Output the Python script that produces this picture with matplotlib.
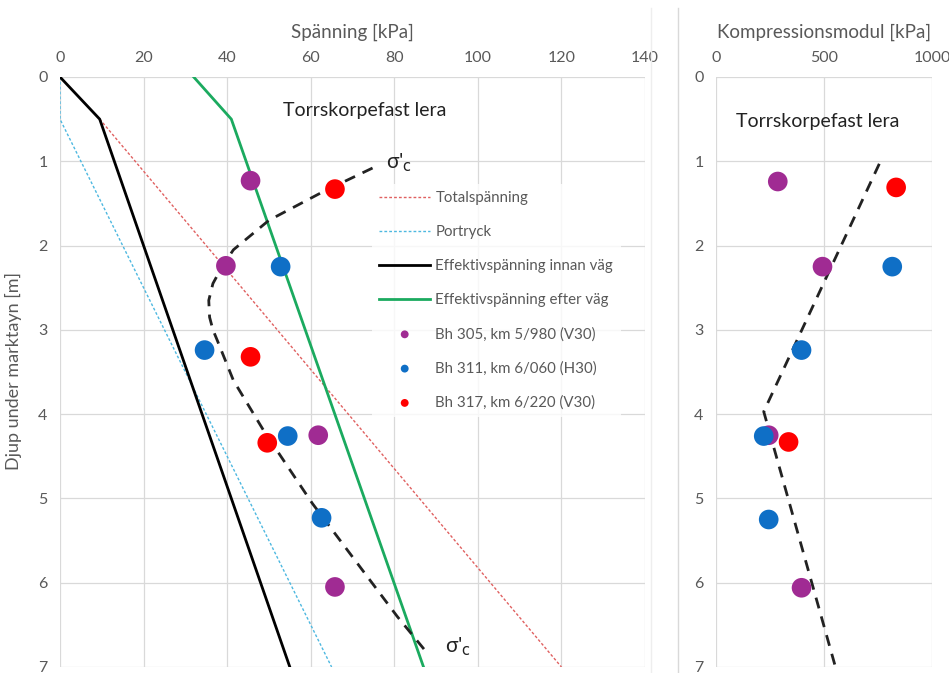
import matplotlib
matplotlib.use("Agg")
import matplotlib.pyplot as plt
from matplotlib.lines import Line2D

plt.rcParams['font.family'] = ['Lato', 'DejaVu Sans']

# ---- data (left panel: stress vs depth) ----
tot_depth = [0.5, 7.0]
tot_val = [9.5, 120.0]
por_depth = [0.0, 0.5, 7.0]
por_val = [0.0, 0.0, 65.0]
eff0_depth = [0.0, 0.5, 1.0, 7.0]
eff0_val = [0.0, 9.5, 13.0, 55.0]
eff1_depth = [0.0, 0.5, 7.0]
eff1_val = [32.0, 41.0, 87.0]
sc_depth = [1.08, 1.36, 1.70, 2.05, 2.25, 2.45, 2.65, 2.85, 3.00, 3.12, 3.60, 4.20, 5.06, 6.40, 6.86]
sc_val = [74.8, 63.0, 50.0, 41.5, 38.8, 36.6, 35.6, 35.8, 36.6, 37.6, 41.5, 48.8, 60.4, 80.7, 88.3]

bh305_depth = [1.23, 2.24, 4.25, 6.05]
bh305_val = [45.6, 39.7, 61.8, 65.8]
bh311_depth = [2.25, 3.24, 4.26, 5.23]
bh311_val = [52.8, 34.6, 54.5, 62.6]
bh317_depth = [1.33, 3.32, 4.34]
bh317_val = [65.8, 45.6, 49.6]

# ---- data (right panel: compression modulus vs depth) ----
m305_depth = [1.24, 2.25, 4.25, 6.06]
m305_val = [286, 493, 244, 396]
m311_depth = [2.25, 3.24, 4.26, 5.25]
m311_val = [816, 396, 221, 244]
m317_depth = [1.31, 4.33]
m317_val = [834, 336]
mfit_depth = [1.03, 3.97, 7.0]
mfit_val = [756, 221, 553]

labels = ["Totalspänning", "Portryck", "Effektivspänning innan väg",
          "Effektivspänning efter väg", "Bh 305, km 5/980 (V30)",
          "Bh 311, km 6/060 (H30)", "Bh 317, km 6/220 (V30)"]

C_PUR = "#A02B93"
C_BLU = "#0F6FC6"
C_RED = "#FF0000"
C_GRN = "#1BAA5F"
C_TOT = "#E06060"
C_POR = "#4DB8E0"
TICK = "#595959"
GRID = "#D9D9D9"

W, H = 949, 673
fig = plt.figure(figsize=(W / 100, H / 100), dpi=100)

def ax_rect(x0, x1, y0, y1):
    return [x0 / W, 1 - y1 / H, (x1 - x0) / W, (y1 - y0) / H]

ax1 = fig.add_axes(ax_rect(60, 645, 77, 667))
ax2 = fig.add_axes(ax_rect(716, 932, 77, 667))

for ax in (ax1, ax2):
    ax.set_ylim(7, 0)
    ax.set_yticks(range(0, 8))
    ax.xaxis.tick_top()
    ax.xaxis.set_label_position('top')
    ax.grid(True, color=GRID, linewidth=0.9)
    ax.set_axisbelow(True)
    for s in ax.spines.values():
        s.set_visible(False)
    ax.tick_params(length=0, labelsize=11.5, colors=TICK, pad=9)

ax1.set_xlim(0, 140)
ax1.set_xticks(range(0, 141, 20))
ax2.set_xlim(0, 1000)
ax2.set_xticks([0, 500, 1000])

# left panel
ax1.plot(tot_val, tot_depth, linestyle=(0, (2, 1.5)), color=C_TOT, lw=1.0, label=labels[0])
ax1.plot(por_val, por_depth, linestyle=(0, (2, 1.5)), color=C_POR, lw=1.0, label=labels[1])
ax1.plot(eff0_val, eff0_depth, color="black", lw=2.0, label=labels[2])
ax1.plot(eff1_val, eff1_depth, color=C_GRN, lw=2.0, label=labels[3])
ax1.plot(sc_val, sc_depth, color="#222222", lw=2.0, linestyle=(0, (4, 3)))
ms = 200
ax1.scatter(bh305_val, bh305_depth, s=ms, color=C_PUR, zorder=5, label=labels[4], edgecolors='none')
ax1.scatter(bh311_val, bh311_depth, s=ms, color=C_BLU, zorder=5, label=labels[5], edgecolors='none')
ax1.scatter(bh317_val, bh317_depth, s=ms, color=C_RED, zorder=5, label=labels[6], edgecolors='none')

leg = ax1.legend(loc='upper left', bbox_to_anchor=(0.52, 0.832), frameon=True,
                 fontsize=10.8, handlelength=3.4, labelspacing=1.33, markerscale=0.4,
                 borderpad=0.5, handletextpad=0.35, fancybox=False)
leg.get_frame().set_edgecolor('none')
leg.get_frame().set_facecolor('white')
for t in leg.get_texts():
    t.set_color(TICK)

ax1.text(0.52, 0.943, "Torrskorpefast lera", transform=ax1.transAxes, ha='center',
         va='center', fontsize=14, color='#222222')
ax1.text(0.558, 0.855, r"σ'$_\mathrm{c}$", transform=ax1.transAxes, ha='left',
         va='center', fontsize=15, color='#222222')
ax1.text(0.658, 0.035, r"σ'$_\mathrm{c}$", transform=ax1.transAxes, ha='left',
         va='center', fontsize=15, color='#222222')
ax1.set_xlabel("Spänning [kPa]", fontsize=13.5, color=TICK, labelpad=9)

# right panel
ax2.plot(mfit_val, mfit_depth, color="#222222", lw=2.0, linestyle=(0, (4, 3)))
ax2.scatter(m305_val, m305_depth, s=ms, color=C_PUR, zorder=5, edgecolors='none')
ax2.scatter(m311_val, m311_depth, s=ms, color=C_BLU, zorder=5, edgecolors='none')
ax2.scatter(m317_val, m317_depth, s=ms, color=C_RED, zorder=5, edgecolors='none')
ax2.text(0.47, 0.925, "Torrskorpefast lera", transform=ax2.transAxes, ha='center',
         va='center', fontsize=14, color='#222222')
ax2.set_xlabel("Kompressionsmodul [kPa]", fontsize=13.5, color=TICK, labelpad=9)

fig.text(13 / W, 1 - 371 / H, "Djup under marktayn [m]", rotation=90, ha='center',
         va='center', fontsize=13, color=TICK)

# chart-area separator lines
fig.add_artist(Line2D([678 / W, 678 / W], [0, 1 - 8 / H], color=GRID, lw=1.0))
fig.add_artist(Line2D([651 / W, 651 / W], [0, 1 - 8 / H], color='#EEEEEE', lw=1.0))

fig.savefig("out.png", dpi=100)
